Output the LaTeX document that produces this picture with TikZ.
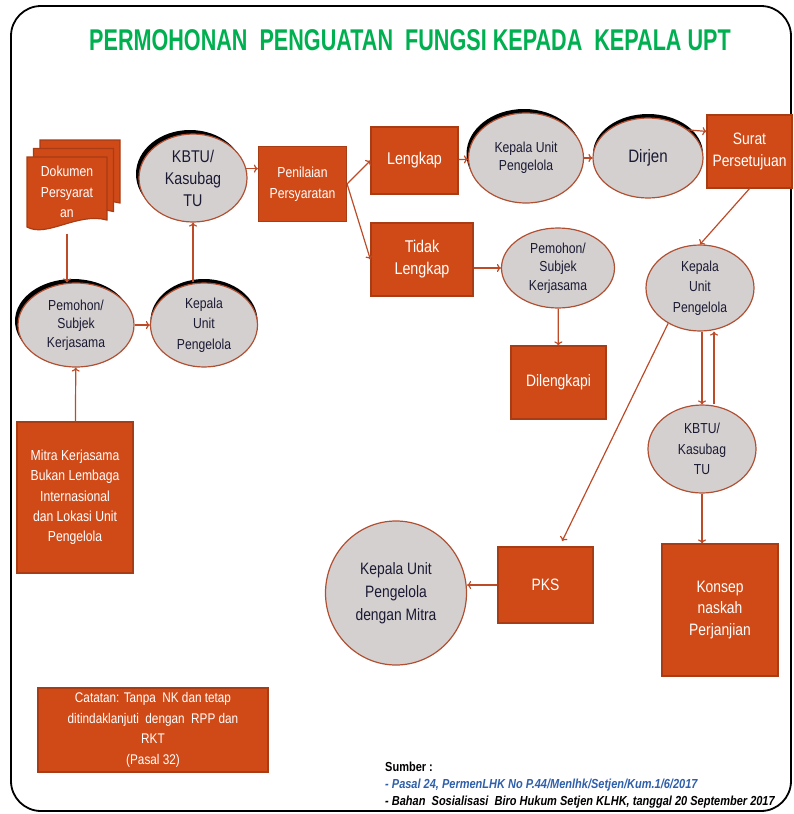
\documentclass[tikz,border=0pt]{standalone}
\usepackage{fontspec}
\setmainfont{Liberation Sans}
\newfontfamily\narrow[FakeStretch=0.84]{Liberation Sans}
\newfontfamily\titlefont[FakeStretch=0.72]{Liberation Sans}
\usetikzlibrary{shapes.geometric,shadows,arrows.meta}

\definecolor{boxfill}{HTML}{D04A18}
\definecolor{boxline}{HTML}{A83C14}
\definecolor{ovalfill}{HTML}{D5D0D0}
\definecolor{ovalline}{HTML}{B05032}
\definecolor{ovaltext}{HTML}{1A1A33}
\definecolor{arrowc}{HTML}{BE4B28}
\definecolor{titlegreen}{HTML}{00B050}
\definecolor{linkblue}{HTML}{2E5FAA}

\begin{document}
\begin{tikzpicture}[x=1pt, y=-1pt,
    box/.style={draw=boxline, fill=boxfill, line width=1.2pt, text=white, align=center, inner sep=0pt, font=\narrow\fontsize{14.5}{20.5}\selectfont},
    oval/.style={ellipse, draw=ovalline, fill=ovalfill, line width=1.2pt, text=ovaltext, align=center, inner sep=0pt, font=\narrow\fontsize{14.5}{20.5}\selectfont},
    dark/.style={general shadow={fill=black, shadow xshift=#1, shadow yshift=4pt}},
    dark/.default=0pt,
    big/.style={font=\narrow\fontsize{17}{22}\selectfont},
    flow/.style={->, >={To[length=4pt,width=8pt]}, draw=arrowc, line width=1.2pt}]
  \useasboundingbox (0,0) rectangle (793,814);
  \draw[line width=1.8pt, rounded corners=30pt] (11,6) rectangle (791,811);

  \node[text=titlegreen, font=\titlefont\bfseries\fontsize{30}{36}\selectfont] (title) at (410,40) {PERMOHONAN\ \ PENGUATAN\ \ FUNGSI KEPADA\ \ KEPALA UPT};

  % dokumen (three sheets)
  \foreach \dx/\dy in {13/-17, 6.5/-8.5, 0/0}
    \filldraw[draw=boxline, fill=boxfill, line width=1.2pt, shift={(\dx,\dy)}] (27,157) -- (107,157) -- (107,220) .. controls (77,212) and (47,238) .. (27,227) -- cycle;
  \node[text=white, align=center, inner sep=0pt, minimum width=80pt, minimum height=71pt, font=\narrow\fontsize{14.5}{20.5}\selectfont] (doc) at (67,192) {Dokumen\\Persyarat\\an};

  \node[oval, big, dark=-3pt, minimum width=108pt, minimum height=88pt] (kbtuA) at (193,178) {KBTU/\\Kasubag\\TU};
  \node[box, minimum width=88pt, minimum height=75pt] (penilaian) at (302.5,184) {Penilaian\\Persyaratan};
  \node[oval, dark=-3pt, font=\narrow\fontsize{14.5}{18.5}\selectfont, minimum width=116pt, minimum height=84pt] (pemohonA) at (76,325) {Pemohon/\\Subjek\\Kerjasama};
  \node[oval, dark, minimum width=107pt, minimum height=84pt] (kepalaA) at (204,325) {Kepala\\Unit\\Pengelola};
  \node[box, font=\narrow\fontsize{14.5}{20.3}\selectfont, minimum width=116pt, minimum height=151pt] (mitra) at (75,497.5) {Mitra Kerjasama\\Bukan Lembaga\\Internasional\\dan Lokasi Unit\\Pengelola};

  \node[box, big, minimum width=87pt, minimum height=67pt] (lengkap) at (414.5,160.5) {Lengkap};
  \node[box, big, minimum width=102pt, minimum height=73pt] (tidak) at (422,259.5) {Tidak\\Lengkap};
  \node[oval, dark=-2pt, font=\narrow\fontsize{14.5}{18}\selectfont, minimum width=115pt, minimum height=90pt] (kepalaB) at (526,158) {Kepala Unit\\Pengelola};
  \node[oval, dark, font=\narrow\fontsize{18}{22}\selectfont, minimum width=110pt, minimum height=80pt] (dirjen) at (648,158) {Dirjen};
  \node[box, font=\narrow\fontsize{16.5}{22}\selectfont, minimum width=85pt, minimum height=73pt] (surat) at (749.5,151.5) {Surat\\Persetujuan};
  \node[oval, font=\narrow\fontsize{14.5}{18.5}\selectfont, minimum width=113pt, minimum height=80pt] (pemohonB) at (558,268) {Pemohon/\\Subjek\\Kerjasama};
  \node[box, font=\narrow\fontsize{16.5}{22}\selectfont, minimum width=95pt, minimum height=73pt] (dilengkapi) at (558.5,382.5) {Dilengkapi};
  \node[oval, minimum width=108pt, minimum height=86pt] (kepalaC) at (700,288) {Kepala\\Unit\\Pengelola};
  \node[oval, minimum width=108pt, minimum height=88pt] (kbtuB) at (702,449) {KBTU/\\Kasubag\\TU};
  \node[box, font=\narrow\fontsize{16.5}{21.5}\selectfont, minimum width=95pt, minimum height=76pt] (pks) at (545.5,585) {PKS};
  \node[box, font=\narrow\fontsize{16.5}{21.5}\selectfont, minimum width=116pt, minimum height=132pt] (konsep) at (720,610) {Konsep\\naskah\\Perjanjian};
  \node[oval, font=\narrow\fontsize{16.5}{23}\selectfont, minimum width=141pt, minimum height=144pt] (kepalaD) at (396,593) {Kepala Unit\\Pengelola\\dengan Mitra};

  \node[box, font=\narrow\fontsize{14}{20.7}\selectfont, minimum width=230pt, minimum height=84pt] (catatan) at (153,730) {Catatan: Tanpa\ \ NK dan tetap\\ditindaklanjuti\ \ dengan\ \ RPP dan\\RKT\\(Pasal 32)};
  \node[anchor=north west, align=left, inner sep=0pt, font=\narrow\bfseries\fontsize{13.1}{17}\selectfont] (sumber) at (385,762) {Sumber :\\\textcolor{linkblue}{\itshape - Pasal 24, PermenLHK No P.44/Menlhk/Setjen/Kum.1/6/2017}\\{\itshape - Bahan\ \ Sosialisasi\ \ Biro Hukum Setjen KLHK, tanggal 20 September 2017}};

  % connectors
  \draw[flow, shorten <=6pt] (doc.south) -- (doc.south |- pemohonA.north);
  \draw[flow] (pemohonA) -- (kepalaA);
  \draw[flow] (kbtuA |- kepalaA.north) -- (kbtuA.south);
  \draw[flow] (mitra) -- (pemohonA);
  \draw[flow] (kbtuA.10) -- (kbtuA.10 -| penilaian.west);
  \draw[flow] (penilaian.east) -- (lengkap.west);
  \draw[flow] (penilaian.east) -- (tidak.west);
  \draw[flow] (lengkap) -- (kepalaB);
  \draw[flow] (kepalaB) -- (dirjen);
  \draw[flow] (dirjen.35) -- (surat.155);
  \draw[flow] (surat.south) -- (kepalaC.north);
  \draw[flow] (tidak.east |- pemohonB) -- (pemohonB.west);
  \draw[flow] (pemohonB) -- (dilengkapi);
  \draw[flow] ([xshift=2pt]kepalaC.south) -- ([xshift=2pt]kepalaC.south |- kbtuB.north);
  \draw[flow] ([xshift=12pt]kbtuB.north) -- ([xshift=12pt]kbtuB.north |- kepalaC.south);
  \draw[flow, shorten >=6pt] (kepalaC.228) -- (pks.70);
  \draw[flow] (kbtuB.south) -- (kbtuB.south |- konsep.north);
  \draw[flow] (pks.west) -- (pks.west -| kepalaD.east);
\end{tikzpicture}
\end{document}
